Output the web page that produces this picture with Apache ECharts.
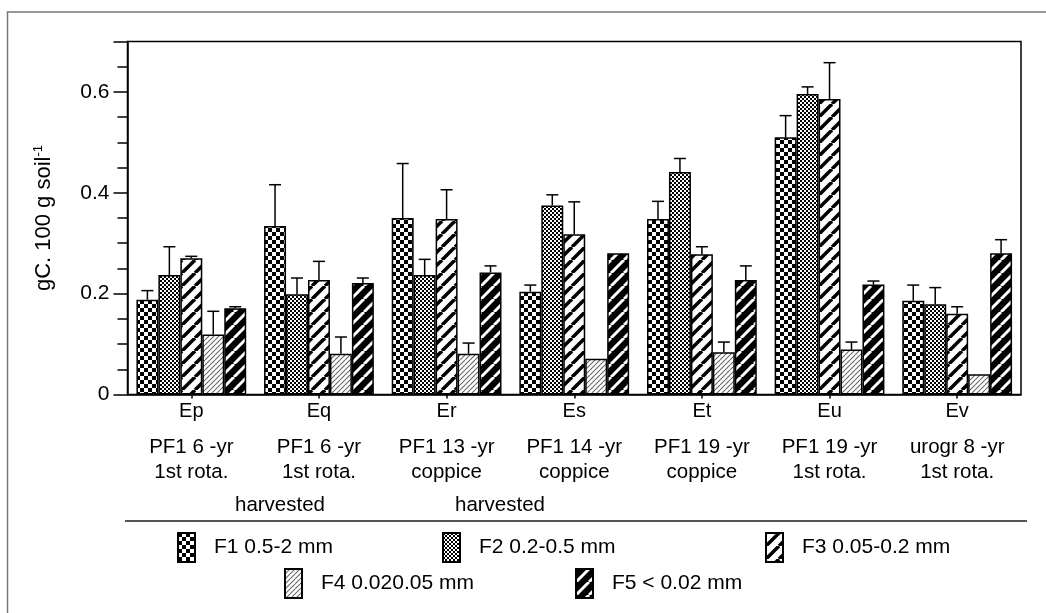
<!DOCTYPE html>
<html>
<head>
<meta charset="utf-8">
<script src="https://cdn.jsdelivr.net/npm/echarts@6/dist/echarts.min.js"></script>
<style>
html, body { margin: 0; padding: 0; background: #fff; }
#main { width: 1046px; height: 613px; }
</style>
</head>
<body>
<div id="main"></div>
<script>
// sites and their descriptions (x axis)
var sites = ['Ep', 'Eq', 'Er', 'Es', 'Et', 'Eu', 'Ev'];
var siteLine1 = ['PF1 6 -yr', 'PF1 6 -yr', 'PF1 13 -yr', 'PF1 14 -yr', 'PF1 19 -yr', 'PF1 19 -yr', 'urogr 8 -yr'];
var siteLine2 = ['1st rota.', '1st rota.', 'coppice', 'coppice', 'coppice', '1st rota.', '1st rota.'];
var fractions = ['F1 0.5-2 mm', 'F2 0.2-0.5 mm', 'F3 0.05-0.2 mm', 'F4 0.020.05 mm', 'F5 < 0.02 mm'];

// gC per 100 g soil, mean values
var f1 = [0.188, 0.334, 0.350, 0.204, 0.348, 0.510, 0.186];
var f2 = [0.237, 0.199, 0.237, 0.375, 0.441, 0.596, 0.179];
var f3 = [0.270, 0.227, 0.348, 0.318, 0.278, 0.586, 0.160];
var f4 = [0.119, 0.081, 0.081, 0.071, 0.084, 0.089, 0.040];
var f5 = [0.171, 0.221, 0.242, 0.280, 0.227, 0.218, 0.280];

// upper error bars
var e1 = [0.018, 0.082, 0.108, 0.013, 0.035, 0.043, 0.031];
var e2 = [0.056, 0.032, 0.031, 0.021, 0.027, 0.014, 0.033];
var e3 = [0.004, 0.037, 0.058, 0.064, 0.015, 0.072, 0.014];
var e4 = [0.046, 0.033, 0.021, 0, 0.020, 0.015, 0];
var e5 = [0.003, 0.010, 0.013, 0, 0.028, 0.007, 0.027];

var yTicks = [0, 0.2, 0.4, 0.6];

var vals = [f1, f2, f3, f4, f5];
var errs = [e1, e2, e3, e4, e5];
var font = 'Liberation Sans, Arial, Helvetica, sans-serif';
var catGap = 0.14;

function tile(size, draw) {
	var c = document.createElement('canvas');
	c.width = size;
	c.height = size;
	draw(c.getContext('2d'), size);
	return c;
}

function checker(cell, fg) {
	return tile(cell * 2, function (ctx, s) {
		ctx.fillStyle = '#fff';
		ctx.fillRect(0, 0, s, s);
		ctx.fillStyle = fg;
		ctx.fillRect(0, 0, cell, cell);
		ctx.fillRect(cell, cell, cell, cell);
	});
}

function stripes(size, bg, fg, w) {
	return tile(size, function (ctx, s) {
		ctx.fillStyle = bg;
		ctx.fillRect(0, 0, s, s);
		ctx.strokeStyle = fg;
		ctx.lineWidth = w;
		for (var o = -s; o <= s; o += s) {
			ctx.beginPath();
			ctx.moveTo(o, s);
			ctx.lineTo(o + s, 0);
			ctx.stroke();
		}
	});
}

var patterns = [
	checker(4, '#000'),
	checker(2, '#000'),
	stripes(13, '#fff', '#000', 3.5),
	stripes(5, '#fff', '#666', 1.1),
	stripes(13, '#000', '#fff', 3)
];

var barSeries = fractions.map(function (name, i) {
	return {
		name: name,
		type: 'bar',
		data: vals[i],
		barGap: '0%',
		barCategoryGap: (catGap * 100) + '%',
		itemStyle: {
			color: { image: patterns[i], repeat: 'repeat' },
			borderColor: '#000',
			borderWidth: 1.5
		}
	};
});

var errSeries = fractions.map(function (name, i) {
	return {
		type: 'custom',
		silent: true,
		z: 5,
		encode: { x: 0, y: 1 },
		data: sites.map(function (s, k) { return [k, vals[i][k], errs[i][k]]; }),
		renderItem: function (params, api) {
			var k = api.value(0), v = api.value(1), e = api.value(2);
			if (!e) return;
			var base = api.coord([k, v]);
			var top = api.coord([k, v + e]);
			var bw = api.size([1, 0])[0] * (1 - catGap) / 5;
			var x = base[0] + (i - 2) * bw;
			var st = { stroke: '#000', lineWidth: 1.5 };
			return {
				type: 'group',
				children: [
					{ type: 'line', shape: { x1: x, y1: base[1], x2: x, y2: top[1] }, style: st },
					{ type: 'line', shape: { x1: x - 6, y1: top[1], x2: x + 6, y2: top[1] }, style: st }
				]
			};
		}
	};
});

var legendPos = [[177, 532], [442, 532], [765, 532], [284, 568], [575, 568]];

var myChart = echarts.init(document.getElementById('main'));
var option = {
	animation: false,
	textStyle: { fontFamily: font },
	grid: {
		left: 127.5, right: 25, top: 41.5, bottom: 218.5,
		show: true, borderColor: '#000', borderWidth: 1.5
	},
	legend: fractions.map(function (name, i) {
		return {
			data: [name],
			left: legendPos[i][0],
			top: legendPos[i][1],
			icon: 'rect',
			itemWidth: 17,
			itemHeight: 29,
			padding: 0,
			selectedMode: false,
			textStyle: { fontSize: 21, color: '#000', fontFamily: font, padding: [0, 0, 0, 14] }
		};
	}),
	xAxis: {
		type: 'category',
		data: sites,
		axisLine: { lineStyle: { color: '#000', width: 1.5 } },
		axisTick: { show: true, alignWithLabel: true, length: 4, lineStyle: { color: '#000', width: 1.5 } },
		axisLabel: {
			margin: 6,
			interval: 0,
			color: '#000',
			formatter: function (v, idx) {
				return '{a|' + v + '}\n{s| }\n{b|' + siteLine1[idx] + '}\n{b|' + siteLine2[idx] + '}';
			},
			rich: {
				a: { fontSize: 20, lineHeight: 22, color: '#000', fontFamily: font },
				s: { fontSize: 4, lineHeight: 12 },
				b: { fontSize: 20.5, lineHeight: 25, color: '#000', fontFamily: font }
			}
		}
	},
	yAxis: [{
		type: 'value',
		min: 0,
		max: 0.7,
		interval: 0.05,
		position: 'left',
		name: '{n|gC. 100 g soil}{sup|-1}',
		nameLocation: 'middle',
		nameGap: 72,
		nameTextStyle: {
			rich: {
				n: { fontSize: 22, lineHeight: 24, color: '#000', fontFamily: font },
				sup: { fontSize: 13, lineHeight: 13, verticalAlign: 'top', color: '#000', fontFamily: font }
			}
		},
		axisLine: { show: true, lineStyle: { color: '#000', width: 1.5 } },
		axisTick: { show: true, length: 10, lineStyle: { color: '#000', width: 1.5 } },
		axisLabel: { show: false },
		splitLine: { show: false }
	}, {
		type: 'value',
		min: 0,
		max: 0.7,
		interval: 0.2,
		position: 'left',
		offset: 0,
		axisLine: { show: false },
		axisTick: { show: true, length: 14, lineStyle: { color: '#000', width: 1.5 } },
		axisLabel: {
			fontSize: 21,
			color: '#000',
			margin: 18,
			formatter: function (v) {
				for (var j = 0; j < yTicks.length; j++) {
					if (Math.abs(v - yTicks[j]) < 1e-6) return yTicks[j] === 0 ? '0' : yTicks[j].toFixed(1);
				}
				return '';
			}
		},
		splitLine: { show: false }
	}],
	graphic: [
		{ type: 'rect', silent: true, z: -10, shape: { x: 7.5, y: 12, width: 1100, height: 700 },
			style: { fill: 'none', stroke: '#777', lineWidth: 1.5 } },
		{ type: 'line', silent: true, shape: { x1: 125, y1: 521, x2: 1027, y2: 521 },
			style: { stroke: '#555', lineWidth: 2 } },
		{ type: 'text', silent: true, x: 280, y: 505,
			style: { text: 'harvested', fontSize: 20.5, fontFamily: font, fill: '#000', align: 'center', verticalAlign: 'middle' } },
		{ type: 'text', silent: true, x: 500, y: 505,
			style: { text: 'harvested', fontSize: 20.5, fontFamily: font, fill: '#000', align: 'center', verticalAlign: 'middle' } }
	],
	series: barSeries.concat(errSeries)
};
myChart.setOption(option);
</script>
</body>
</html>
